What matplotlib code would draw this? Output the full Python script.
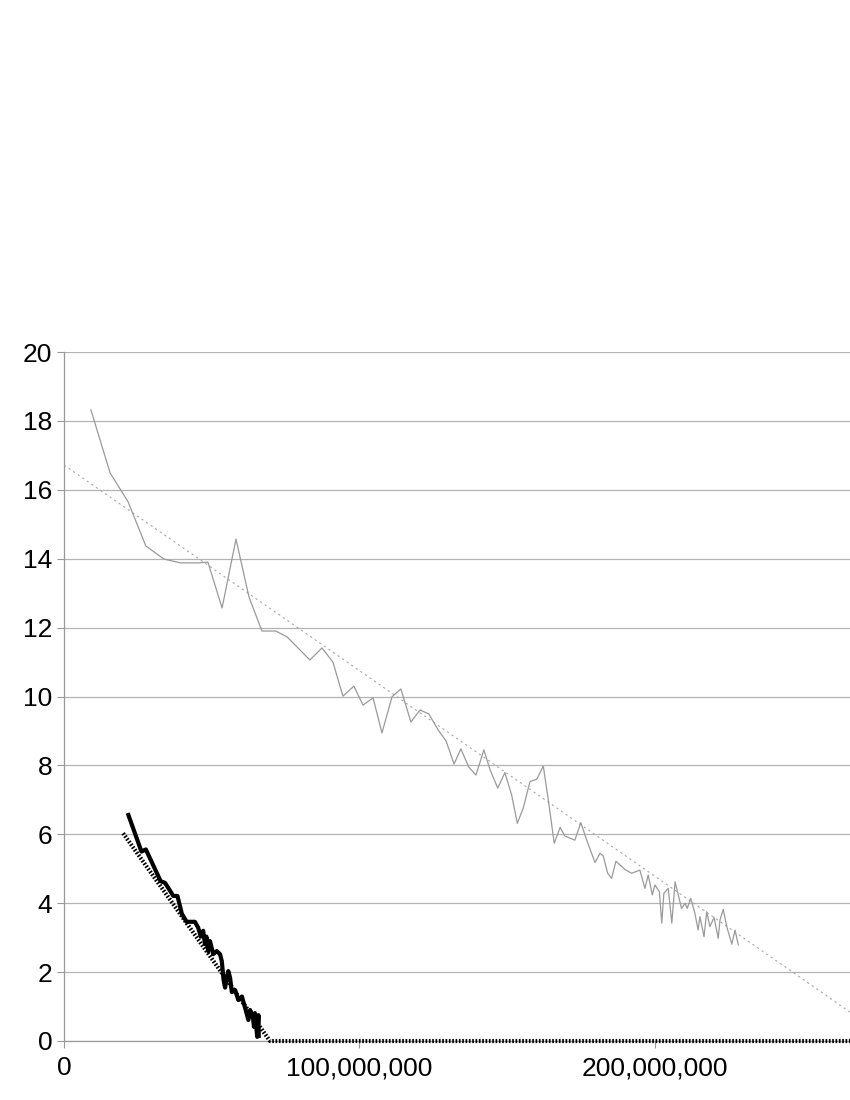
import numpy as np
import matplotlib
matplotlib.use('Agg')
import matplotlib.pyplot as plt
from matplotlib.ticker import FuncFormatter, MultipleLocator

plt.rcParams['font.family'] = ['Liberation Sans', 'DejaVu Sans']

# Gray series (x in millions)
gray_x = [9.1, 15.6, 21.7, 27.7, 33.8, 39.3, 45.7, 48.7, 53.5, 58.2, 62.6, 67.0,
          71.7, 75.5, 83.2, 87.3, 91.0, 94.4, 98.1, 101.2, 104.6, 107.6, 111.0,
          114.0, 117.4, 120.5, 123.5, 126.6, 129.3, 132.0, 134.3, 137.0, 139.4,
          142.1, 144.2, 146.8, 149.2, 151.5, 153.4, 155.4, 157.7, 160.0, 162.2,
          163.9, 165.9, 167.9, 169.5, 172.9, 174.9, 176.9, 179.7, 181.4, 182.5,
          184.0, 185.3, 186.8, 189.8, 192.1, 194.9, 196.6, 197.7, 199.1, 200.0,
          201.5, 202.3, 203.0, 204.5, 205.7, 206.8, 209.0, 210.2, 210.9, 212.1,
          213.5, 214.6, 215.2, 216.6, 217.5, 218.6, 220.0, 221.4, 222.0, 223.1,
          224.3, 226.0, 227.1, 228.2]
gray_y = [18.32, 16.49, 15.65, 14.37, 13.99, 13.88, 13.88, 13.90, 12.57, 14.57,
          12.89, 11.90, 11.90, 11.73, 11.06, 11.41, 11.00, 10.01, 10.30, 9.75,
          9.96, 8.94, 9.99, 10.22, 9.26, 9.61, 9.49, 9.03, 8.71, 8.04, 8.48, 7.95,
          7.72, 8.45, 7.87, 7.34, 7.79, 7.14, 6.32, 6.75, 7.53, 7.60, 7.98, 7.00,
          5.74, 6.20, 5.95, 5.83, 6.34, 5.83, 5.18, 5.45, 5.37, 4.87, 4.72, 5.22,
          4.98, 4.87, 4.96, 4.43, 4.82, 4.24, 4.53, 4.33, 3.42, 4.29, 4.43, 3.42,
          4.62, 3.85, 4.00, 3.85, 4.14, 3.71, 3.22, 3.61, 3.03, 3.75, 3.32, 3.59,
          2.98, 3.51, 3.82, 3.32, 2.81, 3.22, 2.79]

# Gray trend line
gray_trend_x = [0.0, 266.0]
gray_trend_y = [16.72, 0.84]

# Black series
black_x = [21.8, 26.2, 27.7, 30.2, 32.7, 34.2, 37.0, 38.4, 39.9, 41.5, 44.3,
           45.4, 46.3, 47.1, 47.7, 48.2, 48.8, 49.4, 50.5, 51.7, 52.8, 53.4,
           54.0, 54.5, 55.6, 56.2, 56.8, 57.9, 59.0, 60.2, 61.3, 62.4, 63.0,
           63.9, 64.3, 64.6, 65.4, 65.8, 65.9]
black_y = [6.56, 5.50, 5.56, 5.10, 4.64, 4.59, 4.21, 4.21, 3.69, 3.46, 3.46,
           3.29, 3.03, 3.20, 2.81, 3.03, 2.61, 2.90, 2.52, 2.61, 2.52, 2.32,
           1.78, 1.55, 2.03, 1.84, 1.42, 1.48, 1.19, 1.29, 0.96, 0.61, 0.90,
           0.70, 0.41, 0.81, 0.12, 0.75, 0.15]

# Black trend line (floored at zero)
black_trend_x = [20.0, 69.7, 266.0]
black_trend_y = [6.03, 0.0, 0.0]

M = 1e6

fig = plt.figure(figsize=(8.5, 11), dpi=100)
ax = fig.add_axes([64 / 850, 59 / 1100, 1 - 64 / 850, 689 / 1100])

ax.plot(np.array(gray_trend_x) * M, gray_trend_y, color='#a8a8a8', lw=0.8,
        linestyle=(0, (2, 3)))
ax.plot(np.array(gray_x) * M, gray_y, color='#9a9a9a', lw=0.9)
ax.plot(np.array(black_trend_x) * M, black_trend_y, color='black', lw=3.0,
        linestyle=(0, (0.4, 0.4)), clip_on=False, zorder=3)
ax.plot(np.array(black_x) * M, black_y, color='black', lw=3.0, zorder=4)

ax.set_xlim(0, 266 * M)
ax.set_ylim(0, 20)
ax.xaxis.set_major_locator(MultipleLocator(100 * M))
ax.yaxis.set_major_locator(MultipleLocator(2))
ax.xaxis.set_major_formatter(FuncFormatter(lambda v, p: f'{int(v):,}'))

ax.grid(axis='y', color='#b3b3b3', lw=0.9)
ax.set_axisbelow(True)
for side in ['top', 'right']:
    ax.spines[side].set_visible(False)
for side in ['left', 'bottom']:
    ax.spines[side].set_color('#999999')
    ax.spines[side].set_linewidth(0.9)
ax.tick_params(colors='#999999', labelcolor='black', labelsize=19, length=5,
               width=0.8)
ax.tick_params(axis='x', pad=6)

fig.savefig('out.png', dpi=100)
